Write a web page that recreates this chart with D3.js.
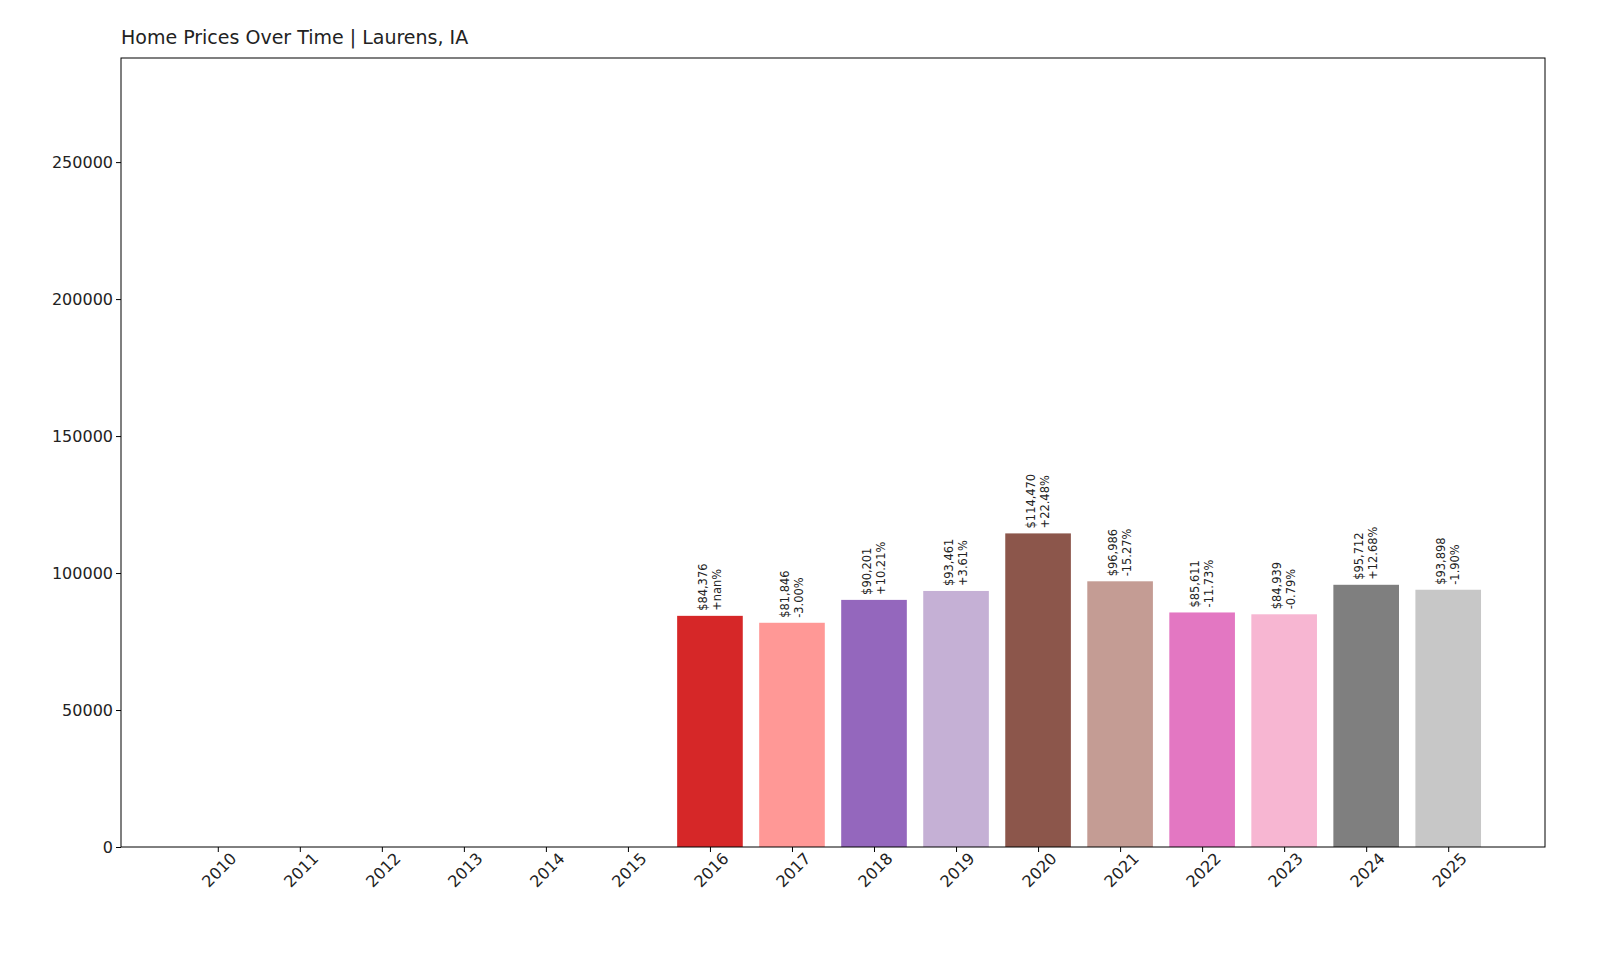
<!DOCTYPE html><html><head><meta charset="utf-8"><script src="https://cdn.jsdelivr.net/npm/d3@7"></script>
<style>body{margin:0;background:#fff}text{font-family:"DejaVu Sans",sans-serif;fill:#222}</style></head><body><svg id="c" width="1600" height="960"></svg><script>
const years=[2010,2011,2012,2013,2014,2015,2016,2017,2018,2019,2020,2021,2022,2023,2024,2025];
const values=[0,0,0,0,0,0,84376,81846,90201,93461,114470,96986,85611,84939,95712,93898];
const changes=[null,null,null,null,null,null,"+nan%","-3.00%","+10.21%","+3.61%","+22.48%","-15.27%","-11.73%","-0.79%","+12.68%","-1.90%"];
const colors=["#1f77b4","#aec7e8","#ff7f0e","#ffbb78","#2ca02c","#98df8a","#d62728","#ff9896","#9467bd","#c5b0d5","#8c564b","#c49c94","#e377c2","#f7b6d2","#7f7f7f","#c7c7c7"];
const yTicks=[0,50000,100000,150000,200000,250000];
const L=121,R=1545,T=58,B=847;
const svg=d3.select("#c");
const x=d3.scaleLinear().domain([-1.18,16.18]).range([L,R]);
const y=d3.scaleLinear().domain([0,288000]).range([B,T]);
const bw=x(0.8)-x(0);
svg.selectAll("rect.b").data(values).join("rect").attr("x",(d,i)=>x(i)-bw/2).attr("width",bw)
 .attr("y",d=>y(d)).attr("height",d=>B-y(d)).attr("fill",(d,i)=>colors[i]);
values.forEach((v,i)=>{if(!changes[i])return;
 const g=svg.append("text").attr("transform",`translate(${x(i)},${y(v)-5}) rotate(-90) scale(0.88,1)`).attr("font-size",13).attr("text-anchor","start");
 g.append("tspan").attr("x",0).attr("dy","-0.25em").text("$"+d3.format(",")(v));
 g.append("tspan").attr("x",0).attr("dy","1.1em").text(changes[i]);});
svg.append("rect").attr("x",L).attr("y",T).attr("width",R-L).attr("height",B-T).attr("fill","none").attr("stroke","#000");
const ya=svg.append("g").attr("transform",`translate(${L},0)`).call(d3.axisLeft(y).tickValues(yTicks).tickFormat(d3.format("d")).tickSize(5));
ya.select(".domain").remove();ya.selectAll("text").attr("font-size",16).attr("fill","#222");
const xa=svg.append("g").attr("transform",`translate(0,${B})`).call(d3.axisBottom(x).tickValues(d3.range(16)).tickFormat(i=>years[i]).tickSize(5));
xa.select(".domain").remove();
xa.selectAll("text").attr("font-size",16).attr("fill","#222").attr("text-anchor","end").attr("dx","0.3em").attr("dy","0.9em").attr("transform","rotate(-45)");
svg.append("text").attr("x",L).attr("y",44).attr("font-size",19).text("Home Prices Over Time | Laurens, IA");
</script></body></html>
